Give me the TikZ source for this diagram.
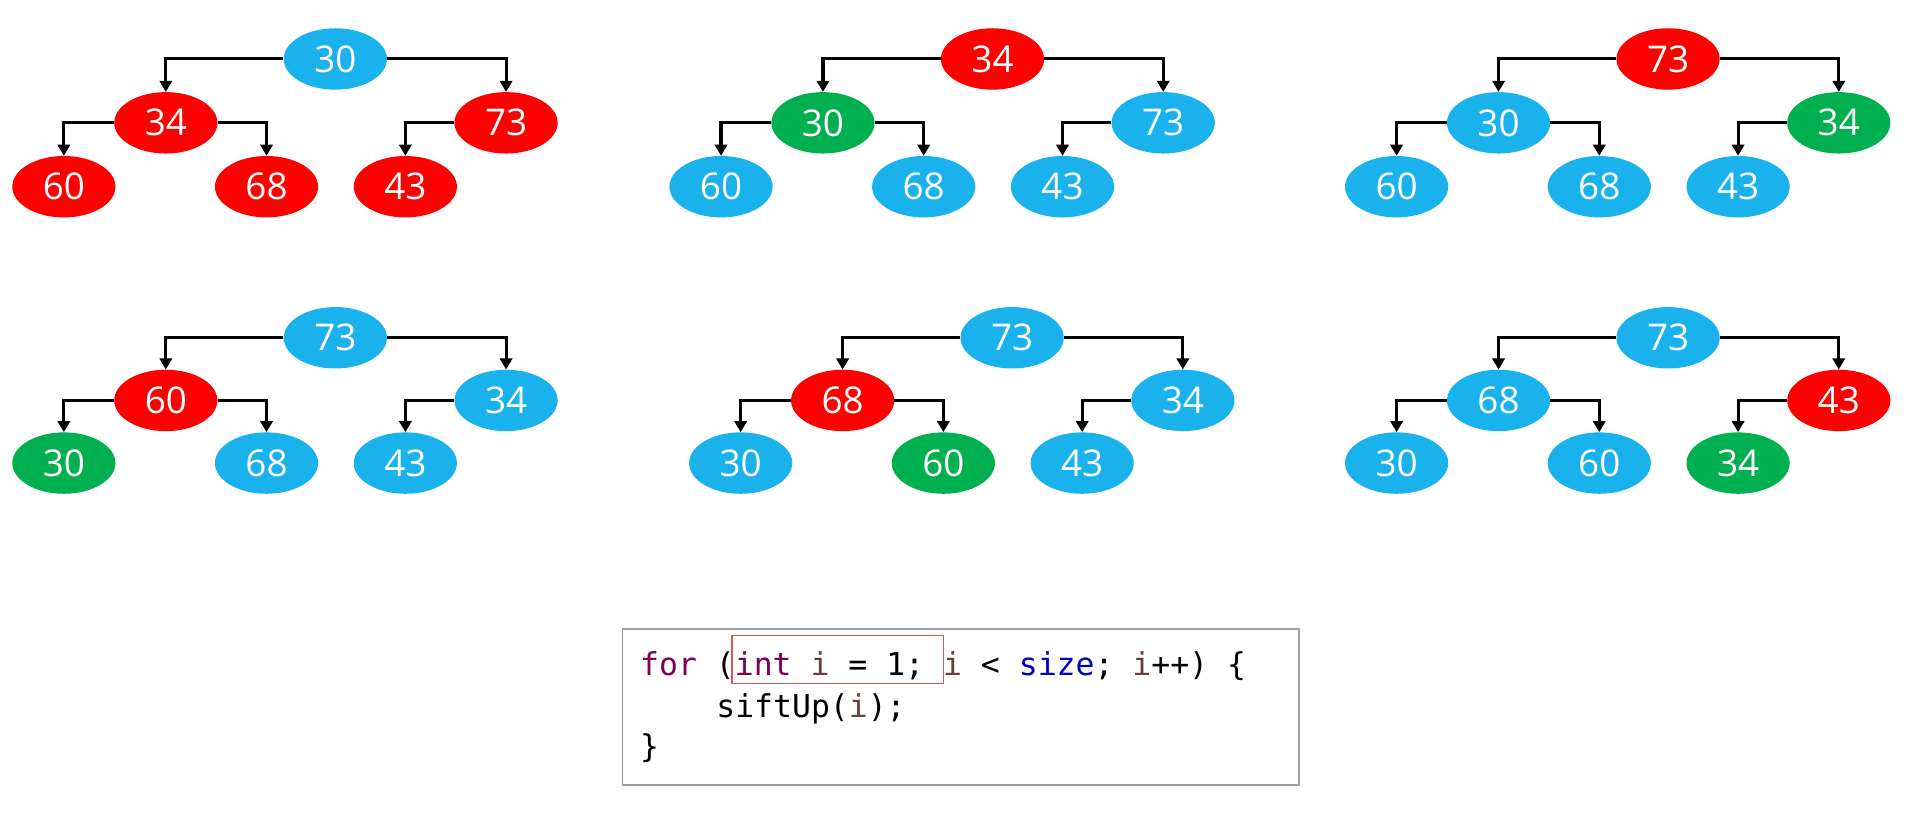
\documentclass[tikz,border=0pt]{standalone}
\usepackage{fontspec}
\setmainfont{Open Sans}
\newfontfamily\codefont[WordSpace={1,0,0}]{DejaVu Sans Mono}
\usetikzlibrary{shapes.geometric,arrows.meta}
\definecolor{nblue}{HTML}{1AB2EC}
\definecolor{nred}{HTML}{FF0000}
\definecolor{ngreen}{HTML}{00B050}
\definecolor{kwpurple}{HTML}{7F0055}
\definecolor{varbrown}{HTML}{6A3E3E}
\definecolor{fieldblue}{HTML}{0000C0}
\definecolor{hlred}{HTML}{DD5555}
\tikzset{
  hn/.style={ellipse, minimum width=84pt, minimum height=50pt, inner sep=0pt, text=white, font=\fontsize{30}{36}\selectfont},
  B/.style={hn, fill=nblue},
  R/.style={hn, fill=nred},
  G/.style={hn, fill=ngreen},
  link/.style={line width=2.5pt, -{Triangle[width=10pt,length=9pt]}},
  codetxt/.style={anchor=base west, inner sep=0pt, font=\codefont\fontsize{25.6}{30}\selectfont}
}
\newcommand\treelinks[1]{%
  \draw[link] (#10.west) -| (#11.north);
  \draw[link] (#10.east) -| (#12.north);
  \draw[link] (#11.west) -| (#13.north);
  \draw[link] (#11.east) -| (#14.north);
  \draw[link] (#12.west) -| (#15.north);
}
\begin{document}
\begin{tikzpicture}[x=1pt,y=-1pt]
\useasboundingbox (0,0) rectangle (1568,668);
% tree 1
\begin{scope}[shift={(273,48)}]
\node[B] (a0) at (0,0) {30};
\node[R] (a1) at (-138,52) {34};
\node[R] (a2) at (139,52) {73};
\node[R] (a3) at (-221,104) {60};
\node[R] (a4) at (-56,104) {68};
\node[R] (a5) at (57,104) {43};
\treelinks{a}
\end{scope}
% tree 2
\begin{scope}[shift={(808,48)}]
\node[R] (b0) at (0,0) {34};
\node[G] (b1) at (-138,52) {30};
\node[B] (b2) at (139,52) {73};
\node[B] (b3) at (-221,104) {60};
\node[B] (b4) at (-56,104) {68};
\node[B] (b5) at (57,104) {43};
\treelinks{b}
\end{scope}
% tree 3
\begin{scope}[shift={(1358,48)}]
\node[R] (c0) at (0,0) {73};
\node[B] (c1) at (-138,52) {30};
\node[G] (c2) at (139,52) {34};
\node[B] (c3) at (-221,104) {60};
\node[B] (c4) at (-56,104) {68};
\node[B] (c5) at (57,104) {43};
\treelinks{c}
\end{scope}
% tree 4
\begin{scope}[shift={(273,275)}]
\node[B] (d0) at (0,0) {73};
\node[R] (d1) at (-138,51) {60};
\node[B] (d2) at (139,51) {34};
\node[G] (d3) at (-221,102) {30};
\node[B] (d4) at (-56,102) {68};
\node[B] (d5) at (57,102) {43};
\treelinks{d}
\end{scope}
% tree 5
\begin{scope}[shift={(824,275)}]
\node[B] (e0) at (0,0) {73};
\node[R] (e1) at (-138,51) {68};
\node[B] (e2) at (139,51) {34};
\node[B] (e3) at (-221,102) {30};
\node[G] (e4) at (-56,102) {60};
\node[B] (e5) at (57,102) {43};
\treelinks{e}
\end{scope}
% tree 6
\begin{scope}[shift={(1358,275)}]
\node[B] (f0) at (0,0) {73};
\node[B] (f1) at (-138,51) {68};
\node[R] (f2) at (139,51) {43};
\node[B] (f3) at (-221,102) {30};
\node[B] (f4) at (-56,102) {60};
\node[G] (f5) at (57,102) {34};
\treelinks{f}
\end{scope}
% code box
\node[draw=gray!75, line width=1.5pt, minimum width=551pt, minimum height=127pt, anchor=north west, inner sep=0pt] (box) at (506,511) {};
\node[draw=hlred, line width=1.2pt, minimum width=172pt, minimum height=39pt, inner sep=0pt] (hl) at (682,537) {};
\node[codetxt] (l1) at (521,550) {\textcolor{kwpurple}{for} (\textcolor{kwpurple}{int} \textcolor{varbrown}{i} = 1; \textcolor{varbrown}{i} < \textcolor{fieldblue}{size}; \textcolor{varbrown}{i}++) \{};
\node[codetxt] (l2) at (583,584) {siftUp(\textcolor{varbrown}{i});};
\node[codetxt] (l3) at (521,617) {\}};
\end{tikzpicture}
\end{document}
